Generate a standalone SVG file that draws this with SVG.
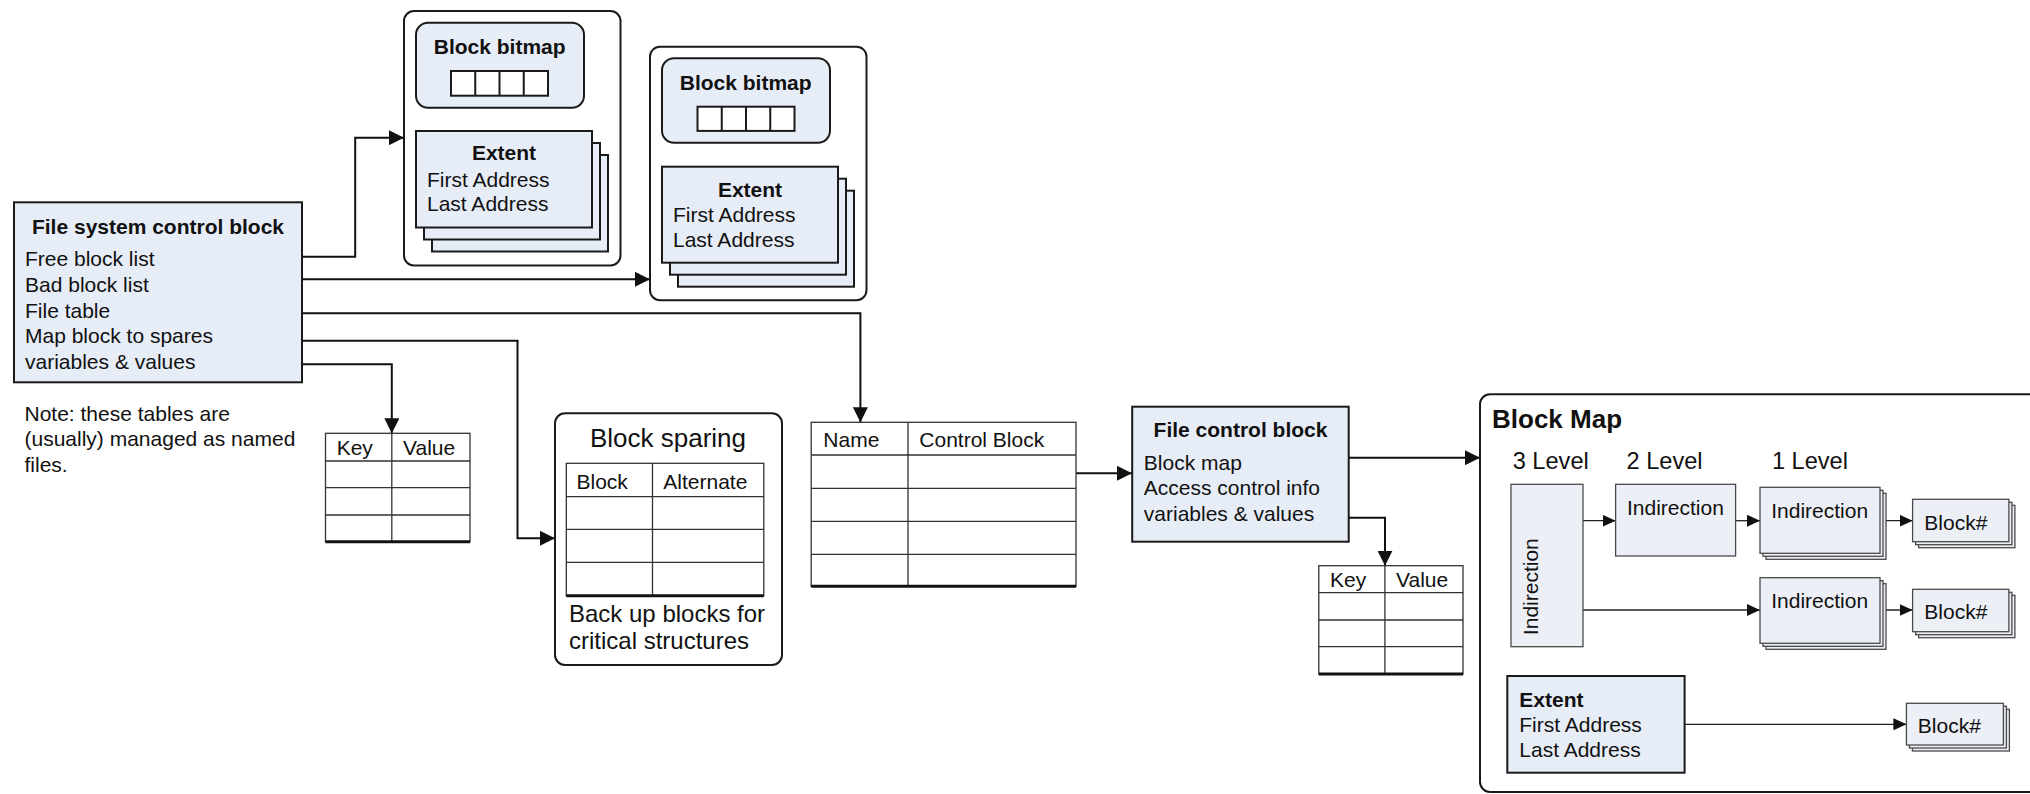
<svg xmlns="http://www.w3.org/2000/svg" width="2030" height="794" viewBox="0 0 2030 794">
<defs>
<style>
text{font-family:"Liberation Sans",Arial,sans-serif;font-size:21px;fill:#111}
.b{font-weight:bold}
.m{text-anchor:middle}
.big{font-size:26px}
.lvl{font-size:23.6px}
.box{fill:#e7edf7;stroke:#1a1a1a;stroke-width:2}
.cont{fill:#fff;stroke:#1a1a1a;stroke-width:2}
.cell{fill:#fff;stroke:#1a1a1a;stroke-width:2}
.bm{fill:#eceff5;stroke:#4a4a4a;stroke-width:1.3}
.tb{fill:#fff;stroke:#333;stroke-width:1.3}
.tl{stroke:#333;stroke-width:1.3;fill:none}
.tbot{stroke:#111;stroke-width:3;fill:none}
.c{fill:none;stroke:#111;stroke-width:2;marker-end:url(#a)}
.ci{fill:none;stroke:#222;stroke-width:1.3;marker-end:url(#ai)}
</style>
<marker id="a" markerUnits="userSpaceOnUse" markerWidth="15" markerHeight="15" refX="15" refY="7.5" orient="auto"><path d="M0,0 L15,7.5 L0,15 z" fill="#111"/></marker>
<marker id="ai" markerUnits="userSpaceOnUse" markerWidth="13" markerHeight="12" refX="13" refY="6" orient="auto"><path d="M0,0 L13,6 L0,12 z" fill="#111"/></marker>
</defs>
<rect width="2030" height="794" fill="#fff"/>

<g id="connectors">
<path class="c" d="M302,256.7 H355.2 V137.7 H404"/>
<path class="c" d="M302,279.3 H650"/>
<path class="c" d="M302,313.3 H860.4 V422.3"/>
<path class="c" d="M302,340.7 H517.5 V538.3 H555"/>
<path class="c" d="M302,364.3 H391.8 V433.3"/>
<path class="c" d="M1076,473.3 H1132"/>
<path class="c" d="M1348.7,457.7 H1480"/>
<path class="c" d="M1348.7,517.7 H1385 V565.7"/>
</g>

<g id="fscb">
<rect class="box" x="14" y="202.3" width="288" height="180"/>
<text class="b m" x="158" y="234">File system control block</text>
<text x="25" y="266">Free block list</text>
<text x="25" y="292">Bad block list</text>
<text x="25" y="317.5">File table</text>
<text x="25" y="343">Map block to spares</text>
<text x="25" y="368.5">variables &amp; values</text>
</g>

<g id="note">
<text x="24.5" y="421">Note: these tables are</text>
<text x="24.5" y="446">(usually) managed as named</text>
<text x="24.5" y="471.5">files.</text>
</g>

<g id="container1">
<rect class="cont" x="404" y="11" width="216.5" height="254.5" rx="10"/>
<rect class="box" x="416" y="22.7" width="168" height="85" rx="12"/>
<text class="b m" x="499.7" y="54">Block bitmap</text>
<rect class="cell" x="451" y="71" width="97" height="24.7"/>
<path class="cell" d="M475.25,71 V95.7 M499.5,71 V95.7 M523.75,71 V95.7"/>
<rect class="box" x="432" y="155" width="176" height="96.5"/>
<rect class="box" x="424" y="143" width="176" height="96.5"/>
<rect class="box" x="416" y="131" width="176" height="96.5"/>
<text class="b m" x="504" y="160">Extent</text>
<text x="427" y="186.5">First Address</text>
<text x="427" y="210.5">Last Address</text>
</g>

<g id="container2">
<rect class="cont" x="650" y="46.7" width="216.5" height="253.5" rx="10"/>
<rect class="box" x="662" y="58.3" width="168" height="84.5" rx="12"/>
<text class="b m" x="745.7" y="89.6">Block bitmap</text>
<rect class="cell" x="697.5" y="106.7" width="97" height="24.2"/>
<path class="cell" d="M721.75,106.7 V130.9 M746,106.7 V130.9 M770.25,106.7 V130.9"/>
<rect class="box" x="678" y="190.7" width="176" height="96"/>
<rect class="box" x="670" y="178.7" width="176" height="96"/>
<rect class="box" x="662" y="166.7" width="176" height="96"/>
<text class="b m" x="750" y="196.5">Extent</text>
<text x="673" y="221.5">First Address</text>
<text x="673" y="247">Last Address</text>
</g>

<g id="keytable1">
<rect class="tb" x="325.5" y="433.3" width="144.5" height="108.4"/>
<path class="tl" d="M391.8,433.3 V541.7 M325.5,461 H470 M325.5,487.7 H470 M325.5,515 H470"/>
<path class="tbot" d="M325.5,541.7 H470"/>
<text x="336.7" y="455">Key</text>
<text x="403" y="455">Value</text>
</g>

<g id="blocksparing">
<rect class="cont" x="555" y="413.3" width="227" height="251.7" rx="10"/>
<text class="big m" x="668" y="447">Block sparing</text>
<rect class="tb" x="566.3" y="463.3" width="197.5" height="132.4"/>
<path class="tl" d="M652.5,463.3 V595.7 M566.3,496.7 H763.8 M566.3,529.3 H763.8 M566.3,562.3 H763.8"/>
<path class="tbot" d="M566.3,595.7 H763.8"/>
<text x="576.5" y="489">Block</text>
<text x="663.3" y="489">Alternate</text>
<text x="569" y="621.7" style="font-size:24px">Back up blocks for</text>
<text x="569" y="649.3" style="font-size:24px">critical structures</text>
</g>

<g id="nametable">
<rect class="tb" x="811.2" y="422.3" width="264.8" height="164"/>
<path class="tl" d="M908,422.3 V586.3 M811.2,455 H1076 M811.2,488.3 H1076 M811.2,521.3 H1076 M811.2,554.3 H1076"/>
<path class="tbot" d="M811.2,586.3 H1076"/>
<text x="823.3" y="447.3">Name</text>
<text x="919.3" y="447.3">Control Block</text>
</g>

<g id="fcb">
<rect class="box" x="1132.2" y="406.7" width="216.5" height="135"/>
<text class="b m" x="1240.5" y="437.3">File control block</text>
<text x="1143.8" y="470">Block map</text>
<text x="1143.8" y="495.3">Access control info</text>
<text x="1143.8" y="520.7">variables &amp; values</text>
</g>

<g id="keytable2">
<rect class="tb" x="1318.8" y="565.7" width="144.2" height="108.3"/>
<path class="tl" d="M1384.9,565.7 V674 M1318.8,592.7 H1463 M1318.8,620 H1463 M1318.8,646.7 H1463"/>
<path class="tbot" d="M1318.8,674 H1463"/>
<text x="1330" y="587">Key</text>
<text x="1396" y="587">Value</text>
</g>

<g id="blockmap">
<rect class="cont" x="1480" y="394.3" width="600" height="397.7" rx="10"/>
<text class="b big" x="1492" y="428.3">Block Map</text>
<text class="lvl" x="1512.7" y="468.7">3 Level</text>
<text class="lvl" x="1626.5" y="468.7">2 Level</text>
<text class="lvl" x="1771.9" y="468.7">1 Level</text>
</g>

<g id="bm-arrows">
<path class="ci" d="M1583,520.7 H1615.6"/>
<path class="ci" d="M1735.5,520.7 H1760"/>
<path class="ci" d="M1880,520.7 H1912.6"/>
<path class="ci" d="M1583,610 H1760"/>
<path class="ci" d="M1880,610 H1912.6"/>
<path class="ci" d="M1684.6,724.3 H1906.4"/>
</g>

<g id="ind3">
<rect class="bm" x="1511" y="484.3" width="72" height="162.4"/>
<text class="m" transform="translate(1538.2,586.7) rotate(-90)" x="0" y="0">Indirection</text>
</g>

<g id="ind2">
<rect class="bm" x="1615.6" y="484.3" width="120" height="71.7"/>
<text class="m" x="1675.4" y="515">Indirection</text>
</g>

<g id="ind1a">
<rect class="bm" x="1766" y="493.3" width="120" height="66"/>
<rect class="bm" x="1763" y="490.3" width="120" height="66"/>
<rect class="bm" x="1760" y="487.3" width="120" height="66"/>
<text class="m" x="1819.7" y="517.7">Indirection</text>
</g>

<g id="ind1b">
<rect class="bm" x="1766" y="583.7" width="120" height="65.6"/>
<rect class="bm" x="1763" y="580.7" width="120" height="65.6"/>
<rect class="bm" x="1760" y="577.7" width="120" height="65.6"/>
<text class="m" x="1819.7" y="607.7">Indirection</text>
</g>

<g id="blk1">
<rect class="bm" x="1918.6" y="505.3" width="96.3" height="42.4"/>
<rect class="bm" x="1915.6" y="502.3" width="96.3" height="42.4"/>
<rect class="bm" x="1912.6" y="499.3" width="96.3" height="42.4"/>
<text class="m" x="1955.8" y="530">Block#</text>
</g>

<g id="blk2">
<rect class="bm" x="1918.6" y="595.3" width="96.3" height="42.4"/>
<rect class="bm" x="1915.6" y="592.3" width="96.3" height="42.4"/>
<rect class="bm" x="1912.6" y="589.3" width="96.3" height="42.4"/>
<text class="m" x="1955.8" y="619.3">Block#</text>
</g>

<g id="extent-bm">
<rect class="box" x="1507.3" y="676" width="177.3" height="96.7"/>
<text class="b" x="1519.3" y="706.7">Extent</text>
<text x="1519.3" y="731.7">First Address</text>
<text x="1519.3" y="757.3">Last Address</text>
</g>

<g id="blk3">
<rect class="bm" x="1912.4" y="709.3" width="97" height="41.7"/>
<rect class="bm" x="1909.4" y="706.3" width="97" height="41.7"/>
<rect class="bm" x="1906.4" y="703.3" width="97" height="41.7"/>
<text class="m" x="1949.3" y="733.3">Block#</text>
</g>
</svg>
